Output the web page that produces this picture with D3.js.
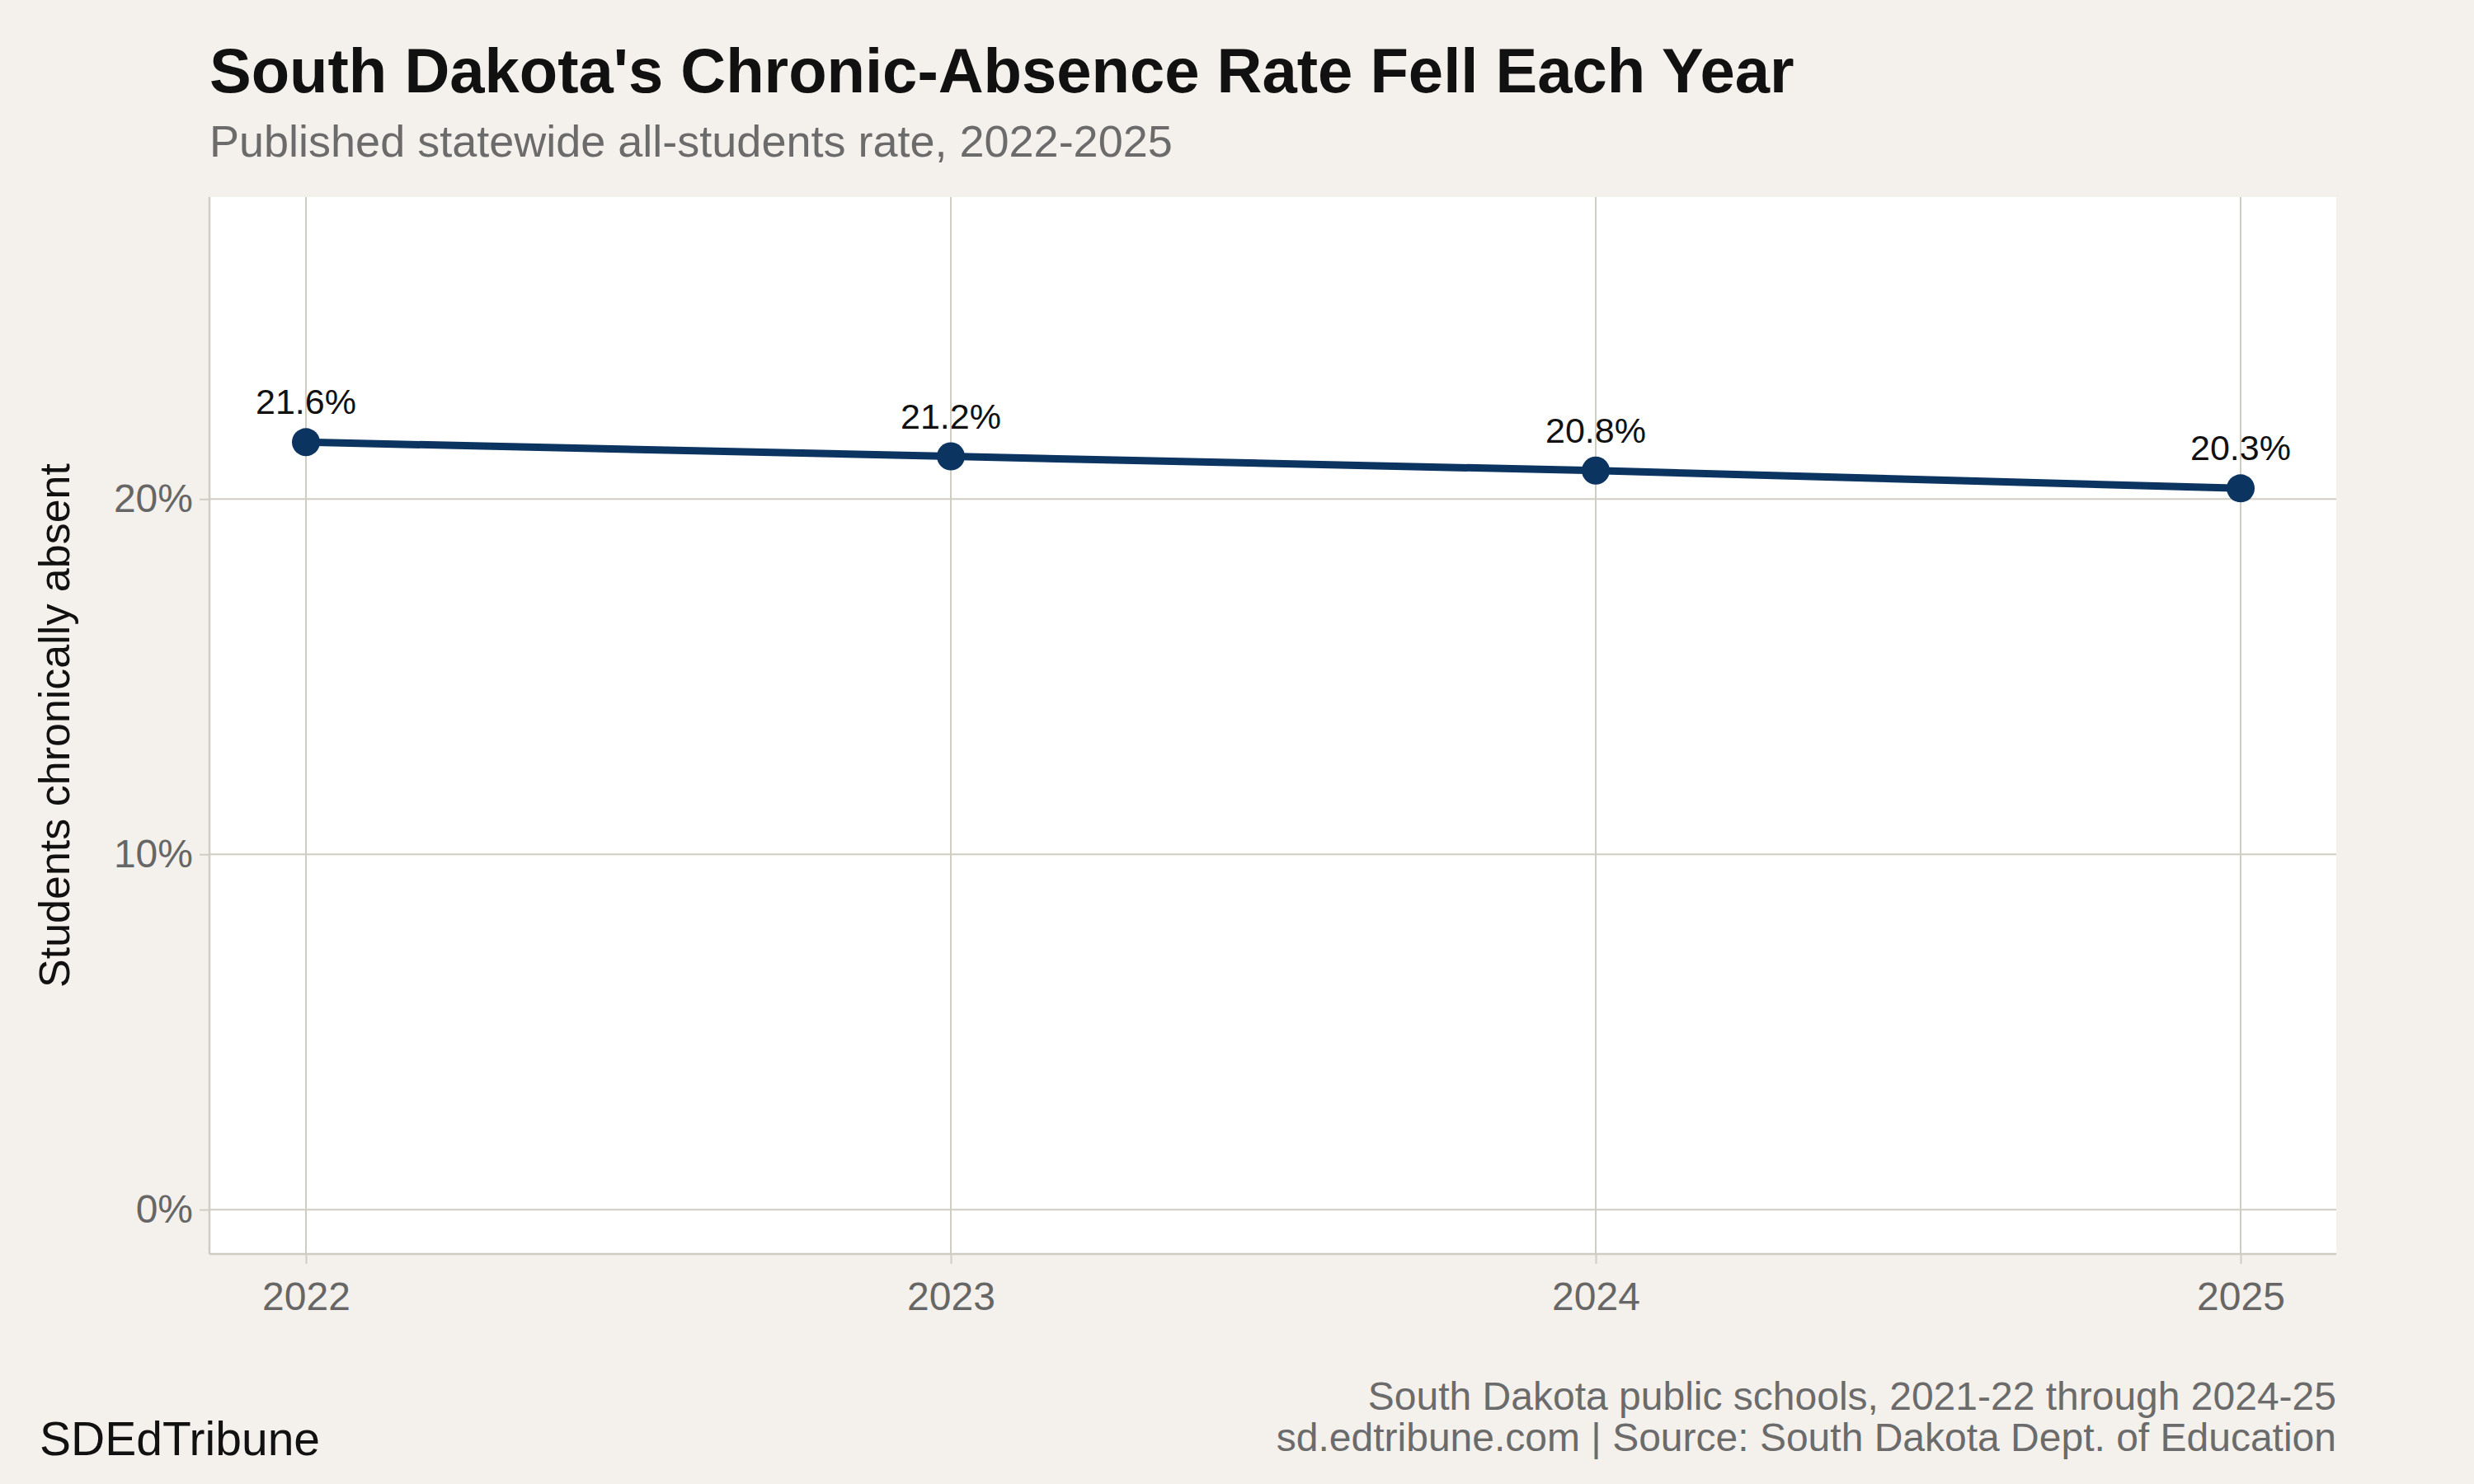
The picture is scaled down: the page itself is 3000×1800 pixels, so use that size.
<!DOCTYPE html>
<html><head><meta charset="utf-8">
<script src="https://cdn.jsdelivr.net/npm/d3@7"></script>
<style>body{margin:0;background:#f4f1ec}</style>
</head><body>
<svg id="c" width="3000" height="1800"></svg>
<script>
const years = [2022, 2023, 2024, 2025];
const rates = [21.6, 21.2, 20.8, 20.3];
const yTicks = [0, 10, 20];

const svg = d3.select("#c");
const font = "Liberation Sans, Arial, sans-serif";
svg.append("rect").attr("width",3000).attr("height",1800).attr("fill","#f4f1ec");
const L=254,R=2833,T=239,B=1521;
svg.append("rect").attr("x",L).attr("y",T).attr("width",R-L).attr("height",B-T).attr("fill","#fff");
const x = d3.scaleLinear().domain([2022,2025]).range([371,2717]);
const y = d3.scaleLinear().domain([-1.25,28.5]).range([B,T]);
const grid="#cfccc2";
svg.append("g").selectAll("line").data(yTicks).join("line")
 .attr("x1",L).attr("x2",R).attr("y1",d=>y(d)).attr("y2",d=>y(d)).attr("stroke",grid).attr("stroke-width",2);
svg.append("g").selectAll("line").data(years).join("line")
 .attr("y1",T).attr("y2",B).attr("x1",d=>x(d)).attr("x2",d=>x(d)).attr("stroke",grid).attr("stroke-width",2);
const ya = svg.append("g").attr("transform",`translate(${L},0)`).call(d3.axisLeft(y).tickValues(yTicks).tickFormat(d=>d+"%").tickSize(12).tickPadding(8));
const xa = svg.append("g").attr("transform",`translate(0,${B})`).call(d3.axisBottom(x).tickValues(years).tickFormat(d3.format("d")).tickSize(12).tickPadding(22));
[ya,xa].forEach(a=>{a.select(".domain").remove();a.selectAll("line").attr("stroke",grid).attr("stroke-width",2);
 a.selectAll("text").attr("font-family",font).attr("font-size",48).attr("fill","#666");});
svg.append("line").attr("x1",L).attr("x2",L).attr("y1",T).attr("y2",B).attr("stroke",grid).attr("stroke-width",2.5);
svg.append("line").attr("x1",L).attr("x2",R).attr("y1",B).attr("y2",B).attr("stroke",grid).attr("stroke-width",2.5);
const data = years.map((yr,i)=>({yr,v:rates[i]}));
svg.append("path").datum(data).attr("fill","none").attr("stroke","#0b3461").attr("stroke-width",9)
 .attr("d",d3.line().x(d=>x(d.yr)).y(d=>y(d.v)));
svg.append("g").selectAll("circle").data(data).join("circle")
 .attr("cx",d=>x(d.yr)).attr("cy",d=>y(d.v)).attr("r",17).attr("fill","#0b3461");
svg.append("g").selectAll("text").data(data).join("text")
 .attr("x",d=>x(d.yr)).attr("y",d=>y(d.v)-34).attr("text-anchor","middle")
 .attr("font-family",font).attr("font-size",43).attr("fill","#111").text(d=>d.v.toFixed(1)+"%");
svg.append("text").attr("transform",`translate(84,${(T+B)/2}) rotate(-90)`).attr("text-anchor","middle")
 .attr("font-family",font).attr("font-size",52).attr("fill","#111").text("Students chronically absent");
svg.append("text").attr("x",254).attr("y",112).attr("font-family",font).attr("font-weight","bold").attr("font-size",76).attr("fill","#111")
 .text("South Dakota's Chronic-Absence Rate Fell Each Year");
svg.append("text").attr("x",254).attr("y",190).attr("font-family",font).attr("font-size",54).attr("fill","#6b6b6b")
 .text("Published statewide all-students rate, 2022-2025");
svg.append("text").attr("x",2833).attr("y",1710).attr("text-anchor","end").attr("font-family",font).attr("font-size",48).attr("fill","#6b6b6b")
 .text("South Dakota public schools, 2021-22 through 2024-25");
svg.append("text").attr("x",2833).attr("y",1760).attr("text-anchor","end").attr("font-family",font).attr("font-size",48).attr("fill","#6b6b6b")
 .text("sd.edtribune.com | Source: South Dakota Dept. of Education");
svg.append("text").attr("x",48).attr("y",1765).attr("font-family",font).attr("font-size",57).attr("fill","#111").text("SDEdTribune");
</script></body></html>
